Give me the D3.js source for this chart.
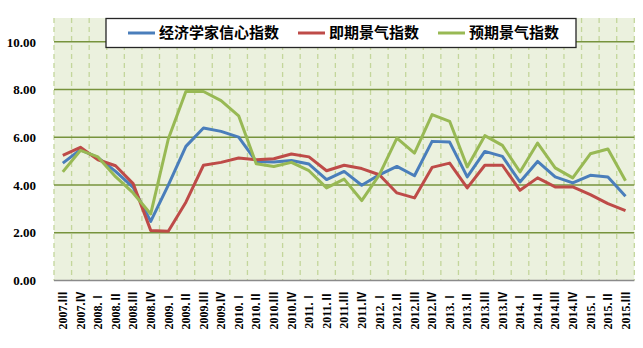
<!DOCTYPE html>
<html>
<head>
<meta charset="utf-8">
<script src="https://cdn.jsdelivr.net/npm/d3@7"></script>
<style>
  html, body { margin: 0; padding: 0; background: #fff; }
  svg { display: block; }
</style>
</head>
<body>
<svg id="chart" width="643" height="348"></svg>
<script>
// Quarters 2007.Ⅲ – 2015.Ⅲ
const quarters = [
  "2007.Ⅲ","2007.Ⅳ",
  "2008.Ⅰ","2008.Ⅱ","2008.Ⅲ","2008.Ⅳ",
  "2009.Ⅰ","2009.Ⅱ","2009.Ⅲ","2009.Ⅳ",
  "2010.Ⅰ","2010.Ⅱ","2010.Ⅲ","2010.Ⅳ",
  "2011.Ⅰ","2011.Ⅱ","2011.Ⅲ","2011.Ⅳ",
  "2012.Ⅰ","2012.Ⅱ","2012.Ⅲ","2012.Ⅳ",
  "2013.Ⅰ","2013.Ⅱ","2013.Ⅲ","2013.Ⅳ",
  "2014.Ⅰ","2014.Ⅱ","2014.Ⅲ","2014.Ⅳ",
  "2015.Ⅰ","2015.Ⅱ","2015.Ⅲ"
];

const seriesNames = ["经济学家信心指数", "即期景气指数", "预期景气指数"];

const confidence = [4.92,5.48,5.15,4.57,3.90,2.48,4.00,5.62,6.39,6.25,6.01,
  4.99,4.97,5.03,4.88,4.23,4.57,3.99,4.43,4.78,4.39,5.83,5.80,4.34,5.41,5.20,
  4.13,4.99,4.34,4.09,4.41,4.34,3.53];

const current = [5.24,5.58,5.06,4.81,4.06,2.10,2.06,3.28,4.83,4.95,5.13,
  5.06,5.10,5.30,5.18,4.60,4.83,4.69,4.43,3.67,3.46,4.74,4.92,3.88,4.83,4.83,
  3.78,4.30,3.92,3.92,3.60,3.22,2.93];

const expected = [4.55,5.45,5.18,4.35,3.67,2.79,5.93,7.92,7.92,7.54,6.90,
  4.89,4.78,4.95,4.60,3.88,4.25,3.35,4.43,5.97,5.34,6.95,6.67,4.76,6.07,5.66,
  4.55,5.76,4.72,4.30,5.31,5.51,4.18];

const yTicks = [0, 2, 4, 6, 8, 10];

const colors = ["#4A7EBB", "#BE4B48", "#98B954"];

const svg = d3.select("#chart");
const plot = { left: 54, right: 634.3, top: 18, bottom: 280.5 };

const x = d3.scaleBand()
  .domain(quarters)
  .range([plot.left, plot.right])
  .padding(0);

const y = d3.scaleLinear()
  .domain([0, 11])
  .range([plot.bottom, plot.top]);

// plot area background
svg.append("rect")
  .attr("x", plot.left).attr("y", plot.top)
  .attr("width", plot.right - plot.left)
  .attr("height", plot.bottom - plot.top)
  .attr("fill", "#EBF1DE");

// vertical dashed gridlines at category boundaries
const bounds = quarters.map(q => x(q)).concat([plot.right]);
svg.append("g")
  .selectAll("line")
  .data(bounds)
  .join("line")
  .attr("x1", d => d).attr("x2", d => d)
  .attr("y1", plot.top).attr("y2", plot.bottom)
  .attr("stroke", "#C3D69B")
  .attr("stroke-width", 1.3)
  .attr("stroke-dasharray", "5,4");

// horizontal gridlines
svg.append("g")
  .selectAll("line")
  .data(yTicks.filter(d => d > 0))
  .join("line")
  .attr("x1", plot.left).attr("x2", plot.right)
  .attr("y1", d => y(d)).attr("y2", d => y(d))
  .attr("stroke", "#77933C")
  .attr("stroke-width", 1.5);

// x axis baseline
svg.append("line")
  .attr("x1", plot.left).attr("x2", plot.right)
  .attr("y1", plot.bottom).attr("y2", plot.bottom)
  .attr("stroke", "#8A8A8A")
  .attr("stroke-width", 1.5);

// y axis labels
const yAxis = d3.axisLeft(y)
  .tickValues(yTicks)
  .tickFormat(d3.format(".2f"))
  .tickSize(0)
  .tickPadding(18);
const gy = svg.append("g")
  .attr("transform", `translate(${plot.left},0)`)
  .call(yAxis);
gy.select(".domain").remove();
gy.selectAll("text")
  .attr("font-family", "'Liberation Serif', 'DejaVu Serif', serif")
  .attr("font-weight", "bold")
  .attr("font-size", 13)
  .attr("fill", "#000");

// x axis labels, rotated; year in serif, quarter numeral in a CJK face
const xAxis = d3.axisBottom(x).tickSize(0).tickPadding(0);
const gx = svg.append("g")
  .attr("transform", `translate(0,${plot.bottom})`)
  .call(xAxis);
gx.select(".domain").remove();
gx.selectAll("text")
  .attr("font-family", "'Liberation Serif', 'DejaVu Serif', serif")
  .attr("font-weight", "bold")
  .attr("font-size", 12)
  .attr("fill", "#000")
  .attr("text-anchor", "end")
  .attr("dy", "0.35em")
  .attr("transform", "translate(0,11) rotate(-90)")
  .attr("x", 0).attr("y", 0)
  .text(null)
  .each(function (d) {
    const [yr, q] = d.split(".");
    const t = d3.select(this);
    t.append("tspan").text(yr + ".");
    t.append("tspan")
      .attr("font-family", "'Noto Sans CJK SC', sans-serif")
      .attr("font-size", 11)
      .text(q);
  });

// series lines
const allSeries = [confidence, current, expected];
const line = d3.line()
  .x((d, i) => x(quarters[i]) + x.bandwidth() / 2)
  .y(d => y(d));

svg.append("g")
  .selectAll("path")
  .data(allSeries)
  .join("path")
  .attr("d", d => line(d))
  .attr("fill", "none")
  .attr("stroke", (d, i) => colors[i])
  .attr("stroke-width", 3)
  .attr("stroke-linejoin", "round");

// legend
const legend = svg.append("g");
legend.append("rect")
  .attr("x", 106).attr("y", 18.5)
  .attr("width", 470).attr("height", 29)
  .attr("fill", "#fff")
  .attr("stroke", "#262626")
  .attr("stroke-width", 1.3);

const legendX = [128, 298, 438];
seriesNames.forEach((name, i) => {
  legend.append("line")
    .attr("x1", legendX[i]).attr("x2", legendX[i] + 27)
    .attr("y1", 33).attr("y2", 33)
    .attr("stroke", colors[i])
    .attr("stroke-width", 3);
  legend.append("text")
    .attr("x", legendX[i] + 31)
    .attr("y", 33)
    .attr("dy", "0.36em")
    .attr("font-family", "'Noto Sans CJK SC', sans-serif")
    .attr("font-weight", "bold")
    .attr("font-size", 15)
    .attr("fill", "#000")
    .text(name);
});
</script>
</body>
</html>
